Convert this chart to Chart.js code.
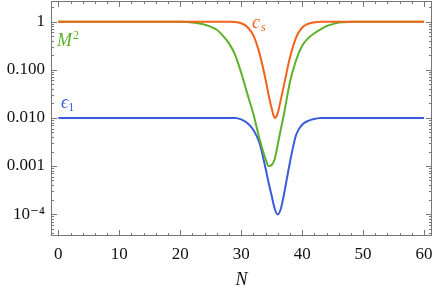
<!DOCTYPE html>
<html>
<head>
<meta charset="utf-8">
<script src="https://cdn.jsdelivr.net/npm/chart.js@4"></script>
<style>
  html, body { margin: 0; padding: 0; background: #fff; }
  #wrap { width: 436px; height: 291px; }
</style>
</head>
<body>
<div id="wrap"><canvas id="myChart"></canvas></div>
<script>
// values
const N = [0, 5, 10, 15, 20, 22, 24, 26, 27, 28, 29, 30, 31, 32, 33, 34, 34.5, 35, 35.5, 36, 36.5, 37, 38, 39, 40, 41, 42, 43, 44, 45, 46, 48, 50, 55, 60];
const cs = [1, 1, 1, 1, 1, 1, 1, 1, 1, 1, 0.99, 0.93, 0.78, 0.52, 0.22, 0.063, 0.03, 0.0158, 0.01, 0.0126, 0.024, 0.047, 0.18, 0.47, 0.76, 0.91, 0.98, 0.995, 1, 1, 1, 1, 1, 1, 1];
const M2 = [1, 1, 1, 1, 0.995, 0.966, 0.87, 0.68, 0.51, 0.355, 0.204, 0.087, 0.032, 0.012, 0.0037, 0.0014, 0.001, 0.00105, 0.0014, 0.0028, 0.0058, 0.0117, 0.056, 0.158, 0.316, 0.457, 0.575, 0.69, 0.81, 0.89, 0.966, 0.995, 1, 1, 1];
const eps1 = [0.01, 0.01, 0.01, 0.01, 0.01, 0.01, 0.01, 0.01, 0.01, 0.01, 0.01, 0.0093, 0.0078, 0.0056, 0.003, 0.00089, 0.00045, 0.00024, 0.000129, 0.000098, 0.000129, 0.00025, 0.0012, 0.0044, 0.0072, 0.0087, 0.0095, 0.0099, 0.01, 0.01, 0.01, 0.01, 0.01, 0.01, 0.01];
const yTicks = [1e-4, 1e-3, 1e-2, 1e-1, 1];
const yTickLabels = ['10⁻⁴', '0.001', '0.010', '0.100', '1'];
const xTicks = [0, 10, 20, 30, 40, 50, 60];

const serif = 'Liberation Serif, DejaVu Serif, serif';

function pts(ys) {
    return N.map((n, i) => ({ x: n, y: ys[i] }));
}

// frame ticks pointing inwards, on all four sides
const frameTicks = {
    id: 'frameTicks',
    afterDraw(chart) {
        const c = chart.ctx;
        const a = chart.chartArea;
        const xs = chart.scales.x, ys = chart.scales.y;
        c.save();
        c.strokeStyle = '#777';
        c.lineWidth = 1;
        c.beginPath();
        for (let v = 0; v <= 60; v += 2) {
            const px = Math.round(xs.getPixelForValue(v)) + 0.5;
            const len = (v % 10 === 0) ? 6 : 3;
            c.moveTo(px, a.bottom); c.lineTo(px, a.bottom - len);
            c.moveTo(px, a.top); c.lineTo(px, a.top + len);
        }
        for (let k = -5; k <= 0; k++) {
            for (let m = 1; m <= 9; m++) {
                const v = m * Math.pow(10, k);
                if (v < ys.min || v > ys.max) continue;
                const py = Math.round(ys.getPixelForValue(v)) + 0.5;
                const len = (m === 1) ? 6 : 3;
                c.moveTo(a.left, py); c.lineTo(a.left + len, py);
                c.moveTo(a.right, py); c.lineTo(a.right - len, py);
            }
        }
        c.stroke();
        c.strokeRect(a.left + 0.5, a.top + 0.5, a.right - a.left - 1, a.bottom - a.top - 1);
        c.restore();
    }
};

function label(c, x, y, main, small, color, smallDy) {
    c.fillStyle = color;
    c.font = 'italic 18px ' + serif;
    c.fillText(main, x, y);
    const w = c.measureText(main).width;
    c.font = (smallDy > 0 ? 'italic ' : '') + '12px ' + serif;
    c.fillText(small, x + w + 1, y + smallDy);
}

// curve names next to the lines
const curveLabels = {
    id: 'curveLabels',
    afterDraw(chart) {
        const c = chart.ctx;
        c.save();
        c.textBaseline = 'alphabetic';
        label(c, 252, 28, 'c', 's', '#F2621A', 3);
        label(c, 57, 46, 'M', '2', '#5DB12A', -7);
        c.fillStyle = '#3A5BDB';
        c.font = 'italic 18px ' + serif;
        c.fillText('ϵ', 61, 108);
        const w = c.measureText('ϵ').width;
        c.font = '12px ' + serif;
        c.fillText('1', 61 + w, 111);
        c.restore();
    }
};

const ctx = document.getElementById('myChart');
new Chart(ctx, {
    type: 'line',
    data: {
        datasets: [
            { label: 'cs', data: pts(cs), borderColor: '#F2621A' },
            { label: 'M2', data: pts(M2), borderColor: '#5DB12A' },
            { label: 'eps1', data: pts(eps1), borderColor: '#3A5BDB' }
        ]
    },
    options: {
        responsive: true,
        maintainAspectRatio: false,
        animation: false,
        devicePixelRatio: 1,
        layout: { padding: { top: 1, right: 4, left: 0, bottom: 0 } },
        elements: {
            point: { radius: 0 },
            line: { borderWidth: 2, cubicInterpolationMode: 'monotone', fill: false }
        },
        plugins: {
            legend: false,
            tooltip: { enabled: false }
        },
        scales: {
            x: {
                type: 'linear',
                min: -1.2,
                max: 61.3,
                afterBuildTicks: (s) => { s.ticks = xTicks.map(v => ({ value: v })); },
                afterFit: (s) => { s.height = 55; s.paddingLeft = 0; s.paddingRight = 0; },
                grid: { display: false, drawTicks: false },
                border: { display: false },
                ticks: {
                    color: '#111',
                    padding: 8,
                    maxRotation: 0,
                    font: { family: serif, size: 17 },
                    callback: (v) => String(v)
                },
                title: {
                    display: true,
                    text: 'N',
                    color: '#111',
                    padding: { top: 4, bottom: 0 },
                    font: { family: serif, size: 18, style: 'italic' }
                }
            },
            y: {
                type: 'logarithmic',
                min: 3.5e-5,
                max: 2.7,
                afterBuildTicks: (s) => { s.ticks = yTicks.map(v => ({ value: v })); },
                afterFit: (s) => { s.width = 51; s.paddingTop = 0; s.paddingBottom = 0; },
                grid: { display: false, drawTicks: false },
                border: { display: false },
                ticks: {
                    color: '#111',
                    padding: 6,
                    font: { family: serif, size: 17 },
                    callback: (v) => yTickLabels[yTicks.indexOf(v)]
                }
            }
        }
    },
    plugins: [frameTicks, curveLabels]
});
</script>
</body>
</html>
